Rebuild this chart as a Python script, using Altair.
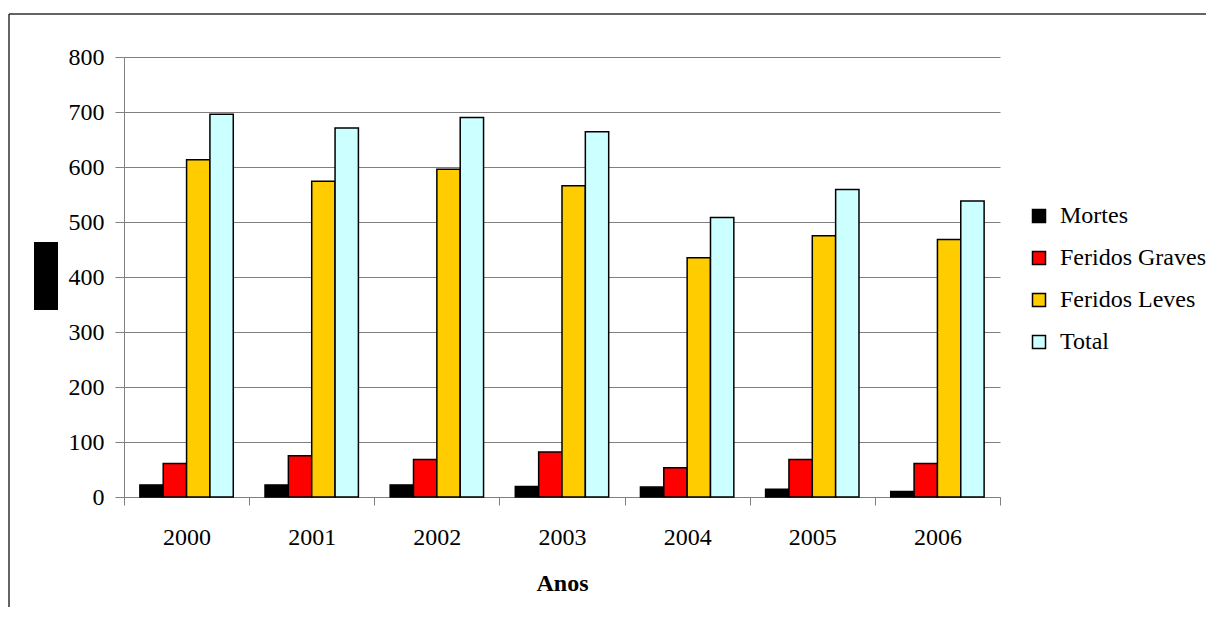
import altair as alt
import pandas as pd

years = ["2000", "2001", "2002", "2003", "2004", "2005", "2006"]
series = ["Mortes", "Feridos Graves", "Feridos Leves", "Total"]
mortes = [22, 22, 22, 19, 18, 14, 10]
feridos_graves = [61, 75, 68, 82, 53, 68, 61]
feridos_leves = [613, 574, 596, 566, 435, 475, 468]
total = [696, 671, 690, 664, 508, 559, 538]
colors = ["#000000", "#FF0000", "#FFCC00", "#CCFFFF"]

rows = []
for name, vals in zip(series, [mortes, feridos_graves, feridos_leves, total]):
    for y, v in zip(years, vals):
        rows.append({"Ano": y, "Serie": name, "Valor": v})
df = pd.DataFrame(rows)

FONT = "Liberation Serif"
W, H = 876, 440

bars = alt.Chart(df).mark_bar(stroke="black", strokeWidth=1.5).encode(
    x=alt.X("Ano:N", sort=years,
            scale=alt.Scale(paddingInner=0, paddingOuter=0),
            axis=alt.Axis(title="Anos", labelAngle=0, tickBand="extent",
                          tickSize=8, tickColor="#808080", domainColor="#808080",
                          labelPadding=20, titlePadding=22, grid=False,
                          labelFont=FONT, titleFont=FONT,
                          labelFontSize=24, titleFontSize=24, titleFontWeight="bold")),
    xOffset=alt.XOffset("Serie:N", sort=series,
                        scale=alt.Scale(paddingInner=0, paddingOuter=0.68)),
    y=alt.Y("Valor:Q", scale=alt.Scale(domain=[0, 800], nice=False),
            axis=alt.Axis(title=None, values=list(range(0, 801, 100)),
                          tickSize=9, tickColor="#808080", domainColor="#808080",
                          gridColor="#808080", gridWidth=1, labelPadding=11,
                          labelFont=FONT, labelFontSize=24)),
    color=alt.Color("Serie:N", sort=series,
                    scale=alt.Scale(domain=series, range=colors),
                    legend=alt.Legend(title=None, orient="none", legendX=903, legendY=147,
                                      symbolType="square", symbolSize=169,
                                      symbolStrokeColor="black", symbolStrokeWidth=1.5,
                                      labelFont=FONT, labelFontSize=24,
                                      rowPadding=18, labelOffset=9)),
)

frame_top = alt.Chart(pd.DataFrame({"k": [0]})).mark_rule(color="#303030", strokeWidth=1.5).encode(
    x=alt.value(-115), x2=alt.value(1200), y=alt.value(-43))
frame_left = alt.Chart(pd.DataFrame({"k": [0]})).mark_rule(color="#303030", strokeWidth=1.5).encode(
    x=alt.value(-115), y=alt.value(-43), y2=alt.value(700))
block = alt.Chart(pd.DataFrame({"k": [0]})).mark_rect(color="black").encode(
    x=alt.value(-90), x2=alt.value(-66), y=alt.value(185), y2=alt.value(253))

chart = alt.layer(bars, frame_top, frame_left, block).properties(
    width=W, height=H,
    autosize=alt.AutoSizeParams(type="none"),
    padding={"left": 116, "top": 49, "right": 206, "bottom": 110},
).configure(font=FONT).configure_view(stroke=None).configure_axis(
    labelColor="black", titleColor="black"
).configure_legend(labelColor="black")

chart.save("out.html", embed_options={"renderer": "svg", "actions": False})
